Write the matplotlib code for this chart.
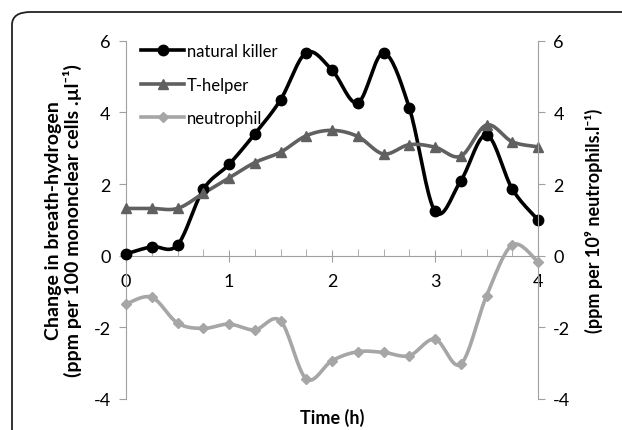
import numpy as np
import matplotlib.pyplot as plt
from matplotlib.patches import FancyBboxPatch
from matplotlib.ticker import MultipleLocator

plt.rcParams['font.family'] = ['Lato', 'DejaVu Sans']
plt.rcParams['axes.unicode_minus'] = False

# time points (h)
time_h = [0, 0.25, 0.5, 0.75, 1.0, 1.25, 1.5, 1.75, 2.0, 2.25, 2.5, 2.75, 3.0, 3.25, 3.5, 3.75, 4.0]

natural_killer = [0.05, 0.25, 0.3, 1.85, 2.55, 3.4, 4.35, 5.67, 5.18, 4.27, 5.66, 4.13, 1.24, 2.09, 3.37, 1.86, 1.0]
t_helper = [1.32, 1.32, 1.32, 1.74, 2.17, 2.6, 2.89, 3.35, 3.5, 3.33, 2.84, 3.1, 3.03, 2.78, 3.65, 3.18, 3.04]
neutrophil = [-1.35, -1.16, -1.88, -2.03, -1.91, -2.07, -1.82, -3.44, -2.93, -2.68, -2.7, -2.79, -2.33, -3.03,
              -1.12, 0.3, -0.17]

GREY_AX = "#a0a0a0"


def smooth(x, y, n=20):
    """Excel-like smoothed line: cubic bezier through points."""
    x = np.asarray(x, float)
    y = np.asarray(y, float)
    px = np.concatenate(([x[0]], x, [x[-1]]))
    py = np.concatenate(([y[0]], y, [y[-1]]))
    xs, ys = [], []
    t = np.linspace(0, 1, n)
    for i in range(len(x) - 1):
        p0 = np.array([x[i], y[i]])
        p3 = np.array([x[i + 1], y[i + 1]])
        p1 = p0 + (np.array([px[i + 2], py[i + 2]]) - np.array([px[i], py[i]])) / 6
        p2 = p3 - (np.array([px[i + 3], py[i + 3]]) - np.array([px[i + 1], py[i + 1]])) / 6
        seg = ((1 - t) ** 3)[:, None] * p0 + (3 * (1 - t) ** 2 * t)[:, None] * p1 \
            + (3 * (1 - t) * t ** 2)[:, None] * p2 + (t ** 3)[:, None] * p3
        xs.extend(seg[:, 0])
        ys.extend(seg[:, 1])
    return xs, ys


fig = plt.figure(figsize=(6.22, 4.31), dpi=100)

# rounded frame, running off the right and bottom edges
frame = FancyBboxPatch((12 / 622, -0.2), 1.2, 1.2 - 13 / 431,
                       boxstyle="round,pad=0,rounding_size=0.03",
                       transform=fig.transFigure, fill=False, ec="#222222", lw=1.3)
fig.patches.append(frame)

ax = fig.add_axes([0.2026, 0.072, 0.6624, 0.831])
ax2 = ax.twinx()

series = [
    (natural_killer, "natural killer", "black", "o", 7.5, ax),
    (t_helper, "T-helper", "#606060", "^", 7, ax),
    (neutrophil, "neutrophil", "#a6a6a6", "D", 5, ax2),
]
handles = []
for vals, name, col, mk, ms, a in series:
    sx, sy = smooth(time_h, vals)
    a.plot(sx, sy, color=col, lw=2.6, clip_on=False, zorder=3)
    a.plot(time_h, vals, ls="none", marker=mk, ms=ms, color=col, clip_on=False, zorder=4)
    h, = ax.plot([], [], color=col, lw=2.6, marker=mk, ms=ms, label=name)
    handles.append(h)

for a in (ax, ax2):
    a.set_xlim(0, 4)
    a.set_ylim(-4, 6)
    a.yaxis.set_major_locator(MultipleLocator(2))
    for s in a.spines.values():
        s.set_visible(False)
    a.patch.set_visible(False)

ax.spines["left"].set_visible(True)
ax.spines["left"].set_color(GREY_AX)
ax.spines["bottom"].set_visible(True)
ax.spines["bottom"].set_position(("data", 0))
ax.spines["bottom"].set_color(GREY_AX)
ax2.spines["right"].set_visible(True)
ax2.spines["right"].set_color(GREY_AX)

ax.xaxis.set_major_locator(MultipleLocator(1))
ax.xaxis.set_minor_locator(MultipleLocator(0.25))
ax.tick_params(axis="x", which="major", direction="inout", length=9, color=GREY_AX,
               labelsize=13, pad=8)
ax.tick_params(axis="x", which="minor", direction="in", length=5, color=GREY_AX)
ax.tick_params(axis="y", direction="out", length=5, color=GREY_AX, labelsize=13, pad=6)
ax2.tick_params(axis="y", direction="out", length=5, color=GREY_AX, labelsize=13, pad=6)

ax.set_ylabel("Change in breath-hydrogen\n(ppm per 100 mononclear cells .\u00b5l\u207b\u00b9)",
              fontsize=14, fontweight="bold", labelpad=8, linespacing=1.1)
ax2.set_ylabel("(ppm per 10\u2079 neutrophils.l\u207b\u00b9)", fontsize=13, fontweight="bold",
               rotation=90, labelpad=10)
ax.set_xlabel("Time (h)", fontsize=13, fontweight="bold", va="center")
ax.xaxis.set_label_coords(0.5, -0.05)

ax.legend(handles=handles, loc="upper left", bbox_to_anchor=(0.0, 1.035), frameon=False,
          fontsize=12, handlelength=2.6, handletextpad=0.15, labelspacing=1.05)

fig.savefig("out.png", dpi=100)
